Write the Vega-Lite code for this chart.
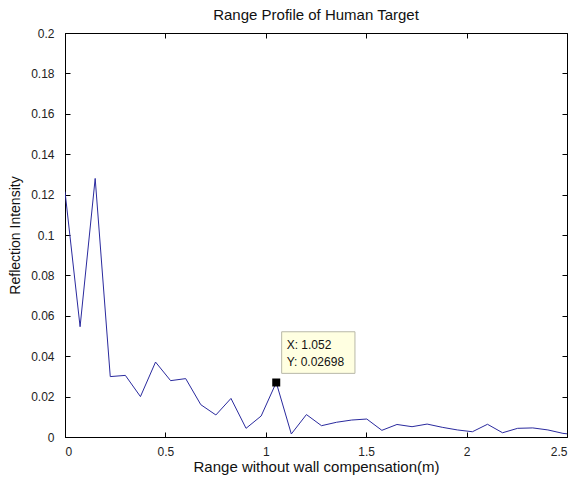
{
  "$schema": "https://vega.github.io/schema/vega-lite/v6.json",
  "width": 502,
  "height": 404,
  "autosize": "none",
  "padding": {"left": 65, "top": 33, "right": 14, "bottom": 46},
  "background": "white",
  "title": {
    "text": "Range Profile of Human Target",
    "font": "Liberation Sans",
    "fontSize": 15,
    "fontWeight": "normal",
    "color": "#111",
    "offset": 4
  },
  "config": {
    "view": {"stroke": "black", "strokeWidth": 1},
    "axis": {
      "grid": false,
      "domainColor": "black",
      "tickColor": "black",
      "tickSize": -5,
      "labelFont": "Liberation Sans",
      "labelFontSize": 12,
      "labelColor": "#222",
      "titleFont": "Liberation Sans",
      "titleFontWeight": "normal",
      "titleColor": "#111"
    }
  },
  "datasets": {
    "profile": [
      {"range": 0.0, "intensity": 0.1215},
      {"range": 0.0751, "intensity": 0.0546},
      {"range": 0.1503, "intensity": 0.128},
      {"range": 0.2254, "intensity": 0.0299},
      {"range": 0.3006, "intensity": 0.0305},
      {"range": 0.3757, "intensity": 0.02},
      {"range": 0.4509, "intensity": 0.0371},
      {"range": 0.526, "intensity": 0.0279},
      {"range": 0.6011, "intensity": 0.0289},
      {"range": 0.6763, "intensity": 0.016},
      {"range": 0.7514, "intensity": 0.0109},
      {"range": 0.8266, "intensity": 0.0191},
      {"range": 0.9017, "intensity": 0.0043},
      {"range": 0.9769, "intensity": 0.0104},
      {"range": 1.052, "intensity": 0.02698},
      {"range": 1.1271, "intensity": 0.0015},
      {"range": 1.2023, "intensity": 0.0111},
      {"range": 1.2774, "intensity": 0.0056},
      {"range": 1.3526, "intensity": 0.0073},
      {"range": 1.4277, "intensity": 0.0084},
      {"range": 1.5029, "intensity": 0.0089},
      {"range": 1.578, "intensity": 0.0033},
      {"range": 1.6531, "intensity": 0.0062},
      {"range": 1.7283, "intensity": 0.0051},
      {"range": 1.8034, "intensity": 0.0064},
      {"range": 1.8786, "intensity": 0.0048},
      {"range": 1.9537, "intensity": 0.0035},
      {"range": 2.0289, "intensity": 0.0026},
      {"range": 2.104, "intensity": 0.0063},
      {"range": 2.1791, "intensity": 0.0021},
      {"range": 2.2543, "intensity": 0.0043},
      {"range": 2.3294, "intensity": 0.0045},
      {"range": 2.4046, "intensity": 0.0035},
      {"range": 2.4797, "intensity": 0.0018},
      {"range": 2.5549, "intensity": 0.001}
    ],
    "cursor": [
      {"range": 1.052, "intensity": 0.02698}
    ],
    "tipBox": [
      {"x0": 1.079, "x1": 1.444, "y0": 0.0315, "y1": 0.0521}
    ],
    "tipText": [
      {"range": 1.104, "intensity": 0.0455, "label": "X: 1.052"},
      {"range": 1.104, "intensity": 0.0373, "label": "Y: 0.02698"}
    ]
  },
  "layer": [
    {
      "data": {"name": "profile"},
      "mark": {"type": "line", "color": "#2a2a9e", "strokeWidth": 1, "clip": true},
      "encoding": {
        "x": {
          "field": "range", "type": "quantitative",
          "scale": {"domain": [0, 2.5], "nice": false, "zero": false},
          "axis": {
            "orient": "bottom",
            "title": "Range without wall compensation(m)",
            "titleFontSize": 15,
            "values": [0, 0.5, 1, 1.5, 2, 2.5],
            "format": "~g",
            "labelPadding": 14,
            "titlePadding": 2
          }
        },
        "y": {
          "field": "intensity", "type": "quantitative",
          "scale": {"domain": [0, 0.2], "nice": false},
          "axis": {
            "orient": "left",
            "title": "Reflection Intensity",
            "titleFontSize": 14,
            "values": [0, 0.02, 0.04, 0.06, 0.08, 0.1, 0.12, 0.14, 0.16, 0.18, 0.2],
            "format": "~g",
            "labelPadding": 16,
            "titlePadding": 8
          }
        }
      }
    },
    {
      "data": {"name": "tipBox"},
      "mark": {"type": "rect", "fill": "#ffffe1", "stroke": "#b8b8a8", "strokeWidth": 1},
      "encoding": {
        "x": {"field": "x0", "type": "quantitative", "axis": null},
        "x2": {"field": "x1"},
        "y": {"field": "y0", "type": "quantitative", "axis": null},
        "y2": {"field": "y1"}
      }
    },
    {
      "data": {"name": "tipText"},
      "mark": {"type": "text", "align": "left", "baseline": "middle", "font": "Liberation Sans", "fontSize": 12, "color": "#111"},
      "encoding": {
        "x": {"field": "range", "type": "quantitative", "axis": null},
        "y": {"field": "intensity", "type": "quantitative", "axis": null},
        "text": {"field": "label"}
      }
    },
    {
      "data": {"name": "cursor"},
      "mark": {"type": "square", "size": 64, "filled": true, "color": "black", "opacity": 1},
      "encoding": {
        "x": {
          "field": "range", "type": "quantitative",
          "axis": {"orient": "top", "title": null, "labels": false, "values": [0, 0.5, 1, 1.5, 2, 2.5], "domain": false}
        },
        "y": {
          "field": "intensity", "type": "quantitative",
          "axis": {"orient": "right", "title": null, "labels": false, "values": [0, 0.02, 0.04, 0.06, 0.08, 0.1, 0.12, 0.14, 0.16, 0.18, 0.2], "domain": false}
        }
      }
    }
  ],
  "resolve": {"axis": {"x": "independent", "y": "independent"}}
}
